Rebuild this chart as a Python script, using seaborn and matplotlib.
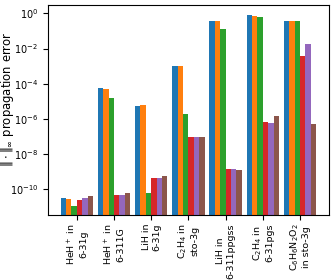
import numpy as np
import pandas as pd
import matplotlib
matplotlib.use("Agg")
import matplotlib.pyplot as plt
import seaborn as sns

# systems (x tick labels)
systems = [
    "HeH$^+$ in\n6-31g",
    "HeH$^+$ in\n6-311G",
    "LiH in\n6-31g",
    "C$_2$H$_4$ in\nsto-3g",
    "LiH in\n6-311ppgss",
    "C$_2$H$_4$ in\n6-31pgs",
    "C$_6$H$_6$N$_2$O$_2$\nin sto-3g",
]

methods = ["m1", "m2", "m3", "m4", "m5", "m6"]
log_m1 = [-10.47, -4.24, -5.25, -2.98, -0.44, -0.10, -0.45]
log_m2 = [-10.55, -4.28, -5.19, -3.00, -0.44, -0.15, -0.45]
log_m3 = [-10.92, -4.78, -10.19, -5.70, -0.87, -0.23, -0.45]
log_m4 = [-10.58, -10.32, -9.34, -7.02, -8.83, -6.19, -2.40]
log_m5 = [-10.49, -10.32, -9.34, -7.02, -8.83, -6.23, -1.72]
log_m6 = [-10.38, -10.21, -9.21, -7.02, -8.87, -5.81, -6.28]

rows = []
for m, vals in zip(methods, [log_m1, log_m2, log_m3, log_m4, log_m5, log_m6]):
    for s, v in zip(systems, vals):
        rows.append({"system": s, "method": m, "error": 10.0 ** v})
df = pd.DataFrame(rows)

plt.rcParams["font.size"] = 7
plt.rcParams["font.family"] = ["DejaVu Sans"]

fig, ax = plt.subplots(figsize=(3.32, 2.8), dpi=100)
fig.subplots_adjust(left=0.144, right=0.991, top=0.982, bottom=0.232)
ax.set_yscale("log")

sns.barplot(data=df, x="system", y="error", hue="method", order=systems,
            hue_order=methods, palette="tab10", width=0.87, saturation=1,
            legend=False, ax=ax)

ax.set_ylim(10 ** -11.45, 10 ** 0.47)
ax.set_xlim(-0.78, 6.78)
ax.set_xlabel("")
ax.set_ylabel(r"$\|\cdot\|_\infty$ propagation error", fontsize=8.4)
ax.yaxis.set_label_coords(-0.112, 0.55)
ax.tick_params(axis="x", labelrotation=90, labelsize=6.8, pad=2.5)
ax.minorticks_off()

fig.savefig("out.png", dpi=100)
